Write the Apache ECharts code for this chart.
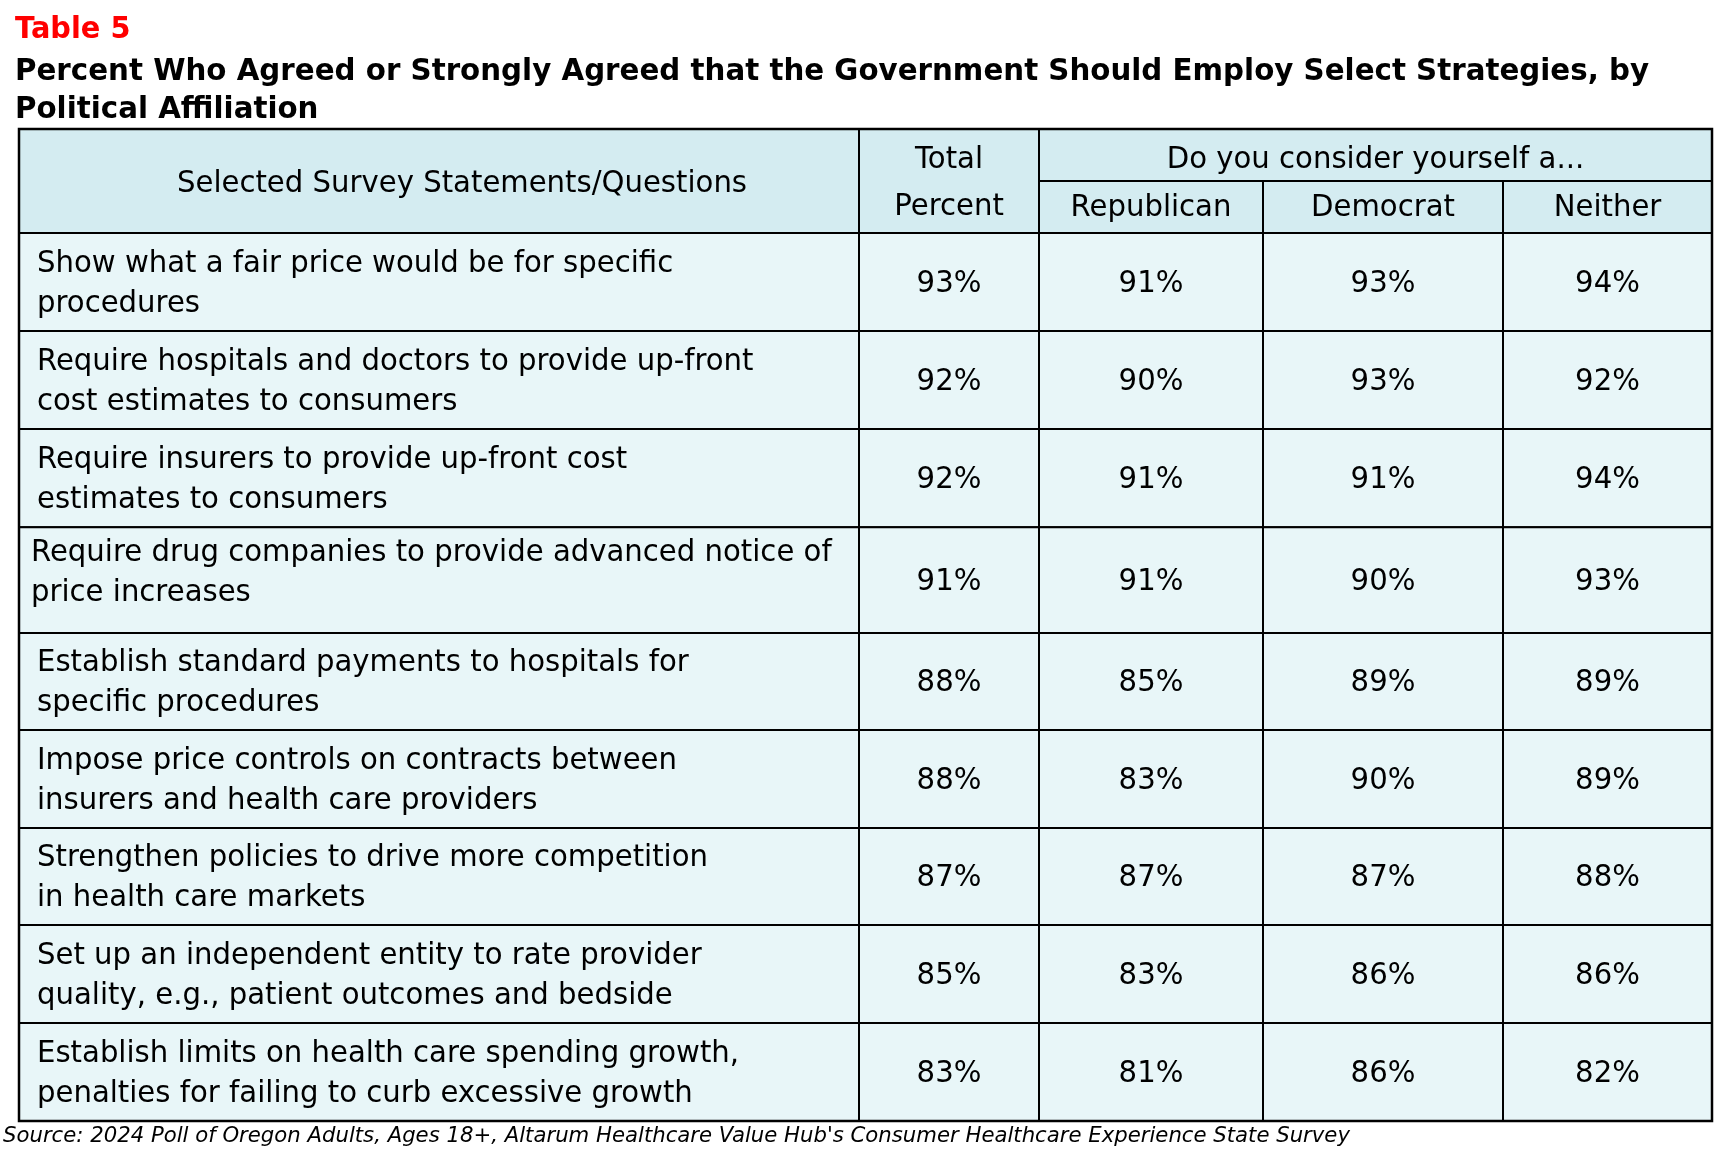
<!DOCTYPE html>
<html>
<head>
<meta charset="utf-8">
<script src="https://cdn.jsdelivr.net/npm/echarts@6/dist/echarts.min.js"></script>
<style>
html,body{margin:0;padding:0;background:#fff;}
#chart{width:1729px;height:1152px;}
</style>
</head>
<body>
<div id="chart"></div>
<script>
// ---- data ----
const tableLabel = 'Table 5';
const titleLines = [
  'Percent Who Agreed or Strongly Agreed that the Government Should Employ Select Strategies, by',
  'Political Affiliation'
];
const firstColHeader = 'Selected Survey Statements/Questions';
const totalHeader = ['Total', 'Percent'];
const groupHeader = 'Do you consider yourself a...';
const partyHeaders = ['Republican', 'Democrat', 'Neither'];
const statements = [
  'Show what a fair price would be for specific\nprocedures',
  'Require hospitals and doctors to provide up-front\ncost estimates to consumers',
  'Require insurers to provide up-front cost\nestimates to consumers',
  'Require drug companies to provide advanced notice of\nprice increases',
  'Establish standard payments to hospitals for\nspecific procedures',
  'Impose price controls on contracts between\ninsurers and health care providers',
  'Strengthen policies to drive more competition\nin health care markets',
  'Set up an independent entity to rate provider\nquality, e.g., patient outcomes and bedside',
  'Establish limits on health care spending growth,\npenalties for failing to curb excessive growth'
];
const totalPct   = [93, 92, 92, 91, 88, 88, 87, 85, 83];
const republican = [91, 90, 91, 91, 85, 83, 87, 83, 81];
const democrat   = [93, 93, 91, 90, 89, 90, 87, 86, 86];
const neither    = [94, 92, 94, 93, 89, 89, 88, 86, 82];
const sourceNote = "Source: 2024 Poll of Oregon Adults, Ages 18+, Altarum Healthcare Value Hub's Consumer Healthcare Experience State Survey";

// ---- layout / style (not data) ----
const colEdges = [19, 859, 1039, 1263, 1503, 1712];
const rowHeights = [89, 89, 89, 96, 88, 89, 88, 89, 89];   // relative row heights
const rowTextShift = [[0,0],[0,0],[0,0],[-6,-9],[0,0],[0,0],[0,0],[0,0],[0,0]]; // [dx, dy] of statement text
const tableTop = 129, headerMid = 181, headerBottom = 233, tableBottom = 1121;
const FONT = '"DejaVu Sans", Verdana, sans-serif';
const SX = 0.94;
const bodyFill = '#e8f6f8', headFill = '#d4ecf1';

const rowStart = [];
rowHeights.reduce((acc, h, i) => { rowStart[i] = acc; return acc + h; }, 0);
const rowTotal = rowHeights.reduce((a, b) => a + b, 0);

const columns = [
  { key: 'statement', values: null },
  { key: 'total', values: totalPct },
  { key: 'rep', values: republican },
  { key: 'dem', values: democrat },
  { key: 'nei', values: neither }
];

const grids = [], xAxes = [], yAxes = [], series = [];
columns.forEach((col, ci) => {
  grids.push({ left: colEdges[ci], width: colEdges[ci + 1] - colEdges[ci], top: headerBottom, bottom: 1152 - tableBottom, containLabel: false });
  xAxes.push({ type: 'category', gridIndex: ci, data: [col.key], show: false });
  yAxes.push({ type: 'value', gridIndex: ci, min: 0, max: rowTotal, inverse: true, show: false, splitLine: { show: false } });
  // each datum: [column category, row start, row end, value, row index]
  const data = statements.map((s, i) => [0, rowStart[i], rowStart[i] + rowHeights[i], col.values ? col.values[i] : 0, i]);
  series.push({
    type: 'custom',
    xAxisIndex: ci, yAxisIndex: ci,
    data: data,
    silent: true,
    renderItem: function (params, api) {
      const r = api.value(4);
      const p0 = api.coord([api.value(0), api.value(1)]);
      const p1 = api.coord([api.value(0), api.value(2)]);
      const w = api.size([1, 0])[0];
      const x0 = p0[0] - w / 2, y0 = p0[1], h = p1[1] - p0[1];
      const cy = y0 + h / 2;
      const isText = !col.values;
      const txt = isText ? statements[r] : (api.value(3) + '%');
      const sh = isText ? rowTextShift[r] : [0, 0];
      return {
        type: 'group',
        children: [
          { type: 'rect', shape: { x: x0, y: y0, width: w, height: h },
            style: { fill: bodyFill, stroke: '#000', lineWidth: 2 } },
          { type: 'text', x: (isText ? x0 + 18 : p0[0]) + sh[0], y: cy + 2 + sh[1], scaleX: SX,
            style: { text: txt, x: 0, y: 0, fill: '#000',
              font: '31px ' + FONT, lineHeight: 40,
              align: isText ? 'left' : 'center', verticalAlign: 'middle' } }
        ]
      };
    }
  });
});

function txt(x, y, text, opts) {
  opts = opts || {};
  return {
    type: 'text', x: x, y: y, scaleX: opts.sx || SX, z: 10,
    style: {
      text: text, x: 0, y: 0, fill: opts.fill || '#000',
      font: (opts.font || '31px ') + FONT,
      align: opts.align || 'center', verticalAlign: 'middle'
    }
  };
}
function line(x1, y1, x2, y2, w) {
  return { type: 'line', z: 20, shape: { x1: x1, y1: y1, x2: x2, y2: y2 }, style: { stroke: '#000', lineWidth: w || 2 } };
}

const L = colEdges[0], R = colEdges[5];
const graphic = [
  { type: 'rect', z: 5, shape: { x: L, y: tableTop, width: R - L, height: headerBottom - tableTop }, style: { fill: headFill } },
  line(colEdges[1], tableTop, colEdges[1], headerBottom),
  line(colEdges[2], tableTop, colEdges[2], headerBottom),
  line(colEdges[3], headerMid, colEdges[3], headerBottom),
  line(colEdges[4], headerMid, colEdges[4], headerBottom),
  line(colEdges[2], headerMid, R, headerMid),
  line(L, headerBottom, R, headerBottom),
  { type: 'rect', z: 30, shape: { x: L, y: tableTop, width: R - L, height: tableBottom - tableTop }, style: { fill: 'none', stroke: '#000', lineWidth: 2.5 } },
  txt(15, 30, tableLabel, { font: 'bold 30px ', fill: '#ff0000', align: 'left', sx: 0.96 }),
  txt(15, 72, titleLines[0], { font: 'bold 30px ', align: 'left', sx: 0.977 }),
  txt(15, 110, titleLines[1], { font: 'bold 30px ', align: 'left', sx: 0.977 }),
  txt(462, 184, firstColHeader),
  txt((colEdges[1] + colEdges[2]) / 2, 160, totalHeader[0]),
  txt((colEdges[1] + colEdges[2]) / 2, 207, totalHeader[1]),
  txt((colEdges[2] + colEdges[5]) / 2, 160, groupHeader),
  txt((colEdges[2] + colEdges[3]) / 2, 208, partyHeaders[0]),
  txt((colEdges[3] + colEdges[4]) / 2, 208, partyHeaders[1]),
  txt((colEdges[4] + colEdges[5]) / 2, 208, partyHeaders[2]),
  txt(3, 1137, sourceNote, { font: 'italic 21px ', align: 'left', sx: 1.01 })
];

const chart = echarts.init(document.getElementById('chart'), null, { renderer: 'canvas' });
chart.setOption({
  animation: false,
  backgroundColor: '#fff',
  grid: grids,
  xAxis: xAxes,
  yAxis: yAxes,
  series: series,
  graphic: graphic
});
</script>
</body>
</html>
